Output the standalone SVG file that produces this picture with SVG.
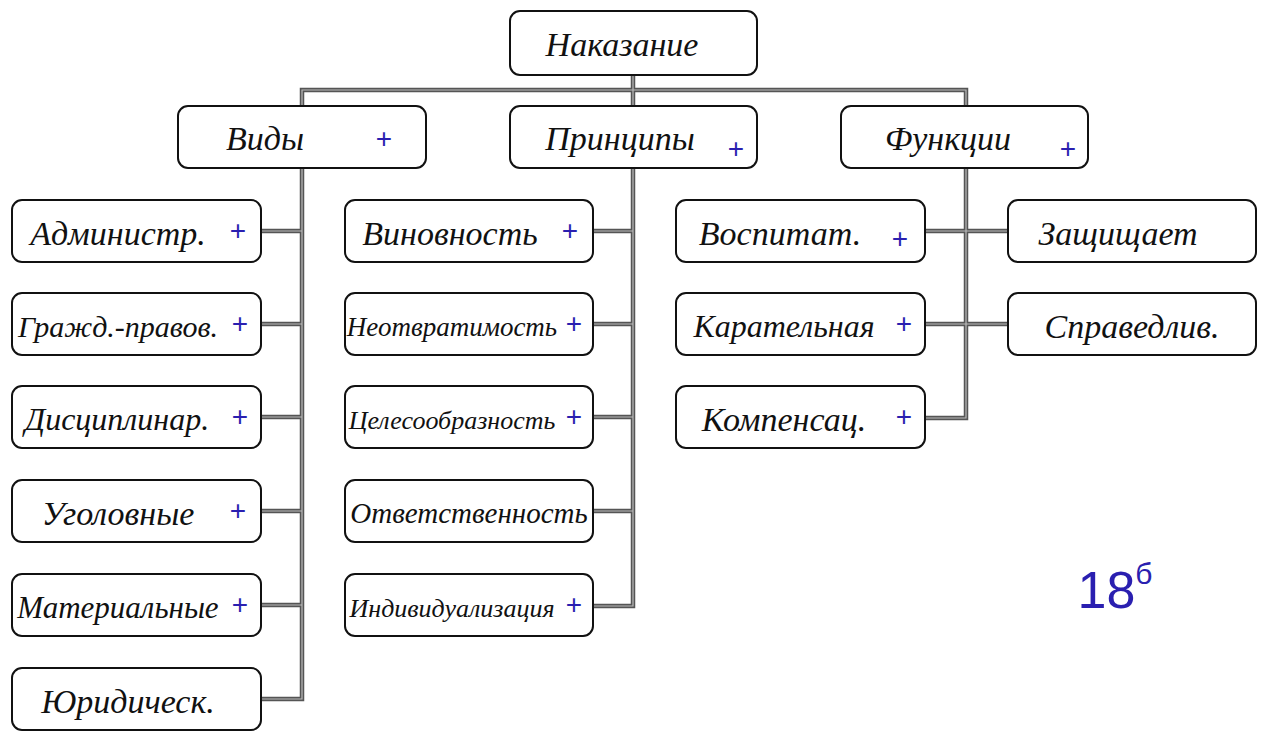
<svg xmlns="http://www.w3.org/2000/svg" width="1264" height="741" viewBox="0 0 1264 741">
<style>
.box{fill:#fff;stroke:#111;stroke-width:2}
.wire{fill:none;stroke:#555;stroke-width:4.5;stroke-linejoin:miter}
.wire2{fill:none;stroke:#bbb;stroke-width:1.2}
.t{font-family:"Liberation Serif",serif;font-style:italic;font-size:34px;fill:#111;text-anchor:middle}
.p{font-family:"Liberation Sans",sans-serif;font-size:28px;fill:#2a1fb0;text-anchor:middle}
</style>
<rect width="1264" height="741" fill="#fff"/>
<g id="connectors">
<path class="wire" d="M633 75V90M302 105V90H966V105M633 90V105M302 168V699H261M261 231H302M261 324H302M261 417H302M261 511H302M261 605H302M633 168V606H593M593 231H633M593 324H633M593 417H633M593 511H633M966 168V418H925M925 231H1008M925 324H1008"/>
<path class="wire2" d="M633 75V90M302 105V90H966V105M633 90V105M302 168V699H261M261 231H302M261 324H302M261 417H302M261 511H302M261 605H302M633 168V606H593M593 231H633M593 324H633M593 417H633M593 511H633M966 168V418H925M925 231H1008M925 324H1008"/>
</g>
<g id="n-root"><rect class="box" x="510" y="11" width="247" height="64" rx="10"/><text class="t" x="622" y="56">Наказание</text></g>
<g id="n-vidy"><rect class="box" x="178" y="106" width="248" height="62" rx="10"/><text class="t" x="265" y="150">Виды</text><text class="p" x="384" y="148">+</text></g>
<g id="n-princ"><rect class="box" x="510" y="106" width="247" height="62" rx="10"/><text class="t" x="620" y="150">Принципы</text><text class="p" x="736" y="158">+</text></g>
<g id="n-func"><rect class="box" x="841" y="106" width="247" height="62" rx="10"/><text class="t" x="948" y="150">Функции</text><text class="p" x="1068" y="158">+</text></g>

<g id="n-adm"><rect class="box" x="12" y="200" width="249" height="62" rx="10"/><text class="t" x="118" y="245">Администр.</text><text class="p" x="238" y="240">+</text></g>
<g id="n-grazhd"><rect class="box" x="12" y="293" width="249" height="62" rx="10"/><text class="t" x="118" y="337" style="font-size:30px">Гражд.-правов.</text><text class="p" x="240" y="333">+</text></g>
<g id="n-disc"><rect class="box" x="12" y="386" width="249" height="62" rx="10"/><text class="t" x="117" y="430" style="font-size:32px">Дисциплинар.</text><text class="p" x="240" y="426">+</text></g>
<g id="n-ugol"><rect class="box" x="12" y="480" width="249" height="62" rx="10"/><text class="t" x="118" y="525">Уголовные</text><text class="p" x="238" y="520">+</text></g>
<g id="n-mat"><rect class="box" x="12" y="574" width="249" height="62" rx="10"/><text class="t" x="118" y="618" style="font-size:31px">Материальные</text><text class="p" x="240" y="614">+</text></g>
<g id="n-yur"><rect class="box" x="12" y="668" width="249" height="62" rx="10"/><text class="t" x="128" y="713">Юридическ.</text></g>

<g id="n-vin"><rect class="box" x="345" y="200" width="248" height="62" rx="10"/><text class="t" x="450" y="245">Виновность</text><text class="p" x="570" y="240">+</text></g>
<g id="n-neotvr"><rect class="box" x="345" y="293" width="248" height="62" rx="10"/><text class="t" x="452" y="336" style="font-size:27px">Неотвратимость</text><text class="p" x="574" y="333">+</text></g>
<g id="n-cel"><rect class="box" x="345" y="386" width="248" height="62" rx="10"/><text class="t" x="452" y="429" style="font-size:26px">Целесообразность</text><text class="p" x="574" y="426">+</text></g>
<g id="n-otv"><rect class="box" x="345" y="480" width="248" height="62" rx="10"/><text class="t" x="469" y="523" style="font-size:29px">Ответственность</text></g>
<g id="n-ind"><rect class="box" x="345" y="574" width="248" height="62" rx="10"/><text class="t" x="452" y="617" style="font-size:26px">Индивидуализация</text><text class="p" x="574" y="614">+</text></g>

<g id="n-vosp"><rect class="box" x="676" y="200" width="249" height="62" rx="10"/><text class="t" x="780" y="245">Воспитат.</text><text class="p" x="900" y="248">+</text></g>
<g id="n-kar"><rect class="box" x="676" y="293" width="249" height="62" rx="10"/><text class="t" x="784" y="337" style="font-size:32px">Карательная</text><text class="p" x="904" y="333">+</text></g>
<g id="n-komp"><rect class="box" x="676" y="386" width="249" height="62" rx="10"/><text class="t" x="784" y="431">Компенсац.</text><text class="p" x="904" y="426">+</text></g>
<g id="n-zasch"><rect class="box" x="1008" y="200" width="248" height="62" rx="10"/><text class="t" x="1118" y="245">Защищает</text></g>
<g id="n-sprav"><rect class="box" x="1008" y="293" width="248" height="62" rx="10"/><text class="t" x="1132" y="338">Справедлив.</text></g>

<text x="1115" y="608" style="font-family:'Liberation Sans',sans-serif;font-size:52px;fill:#2a1fb0;text-anchor:middle">18<tspan dy="-24" style="font-size:30px">б</tspan></text>
</svg>
